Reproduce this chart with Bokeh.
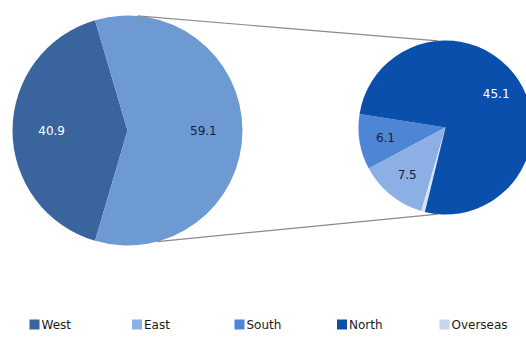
import math
from bokeh.plotting import figure
from bokeh.models import ColumnDataSource
from bokeh.core.properties import value
from bokeh.embed import file_html
from bokeh.resources import INLINE

# ---- data ----
main_labels = ["West", "Other"]
main_values = [40.9, 59.1]
main_colors = ["#3a649e", "#6e9ad3"]
main_text_colors = ["#ffffff", "#1a1a3a"]

sub_labels = ["South", "East", "Overseas", "North"]
sub_values = [6.1, 7.5, 0.4, 45.1]
sub_colors = ["#4e85d4", "#8cb0e6", "#d8e4f4", "#0b4fad"]
sub_text_colors = ["#1a1a3a", "#1a1a3a", None, "#ffffff"]

legend_labels = ["West", "East", "South", "North", "Overseas"]
legend_colors = ["#3a649e", "#8cb0e6", "#4e85d4", "#0b4fad", "#c5d5ec"]

W, H = 526, 338
FONT = "DejaVu Sans"

p = figure(width=W, height=H, x_range=(0, W), y_range=(0, H),
           output_backend="svg", toolbar_location=None, min_border=0)
p.axis.visible = False
p.grid.visible = False
p.outline_line_color = None
p.background_fill_color = "white"
p.border_fill_color = "white"


def Y(ypx):
    return H - ypx


# geometry
L_CX, L_CY, L_R = 127, Y(130), 115
R_CX, R_CY, R_R = 445, Y(127), 87
SUB_ROT = 171.0


def pie(values, colors, start_deg, cx, cy, r, label_frac, text_colors):
    total = sum(values)
    starts, ends, lx, ly, txt, tcol = [], [], [], [], [], []
    a = math.radians(start_deg)
    for v, tc in zip(values, text_colors):
        span = 2 * math.pi * v / total
        starts.append(a)
        ends.append(a + span)
        mid = a + span / 2
        if tc is not None:
            lx.append(cx + label_frac * r * math.cos(mid))
            ly.append(cy + label_frac * r * math.sin(mid))
            txt.append(f"{v:.1f}")
            tcol.append(tc)
        a += span
    src = ColumnDataSource(dict(start=starts, end=ends, color=colors))
    p.wedge(x=cx, y=cy, radius=r, start_angle="start", end_angle="end",
            fill_color="color", line_color=None, source=src)
    lsrc = ColumnDataSource(dict(x=lx, y=ly, t=txt, c=tcol))
    p.text(x="x", y="y", text="t", text_color="c", source=lsrc,
           text_font=value(FONT), text_font_size="12px",
           text_align="center", text_baseline="middle")


# left pie: West centred on the left side
west_deg = 360 * main_values[0] / sum(main_values)
pie(main_values, main_colors, 180 - west_deg / 2, L_CX, L_CY, L_R, 0.66, main_text_colors)
pie(sub_values, sub_colors, SUB_ROT, R_CX, R_CY, R_R, 0.70, sub_text_colors)

# connector lines
def pt(cx, cy, r, deg):
    return cx + r * math.cos(math.radians(deg)), cy + r * math.sin(math.radians(deg))

for a1, a2 in ((85, 95), (-75, -95)):
    x1, y1 = pt(L_CX, L_CY, L_R, a1)
    x2, y2 = pt(R_CX, R_CY, R_R, a2)
    p.line([x1, x2], [y1, y2], line_color="#8a8a8a", line_width=1.2)

# legend
LX0, LSTEP = 34, 102.5
lx = [LX0 + i * LSTEP for i in range(len(legend_labels))]
p.rect(x=lx, y=Y(324), width=10, height=10, fill_color=legend_colors, line_color=None)
p.text(x=[v + 7 for v in lx], y=[Y(324)] * len(lx), text=legend_labels,
       text_color="#1a1a1a", text_font=value(FONT), text_font_size="12px",
       text_align="left", text_baseline="middle")

open("out.html", "w").write(file_html(p, INLINE))
